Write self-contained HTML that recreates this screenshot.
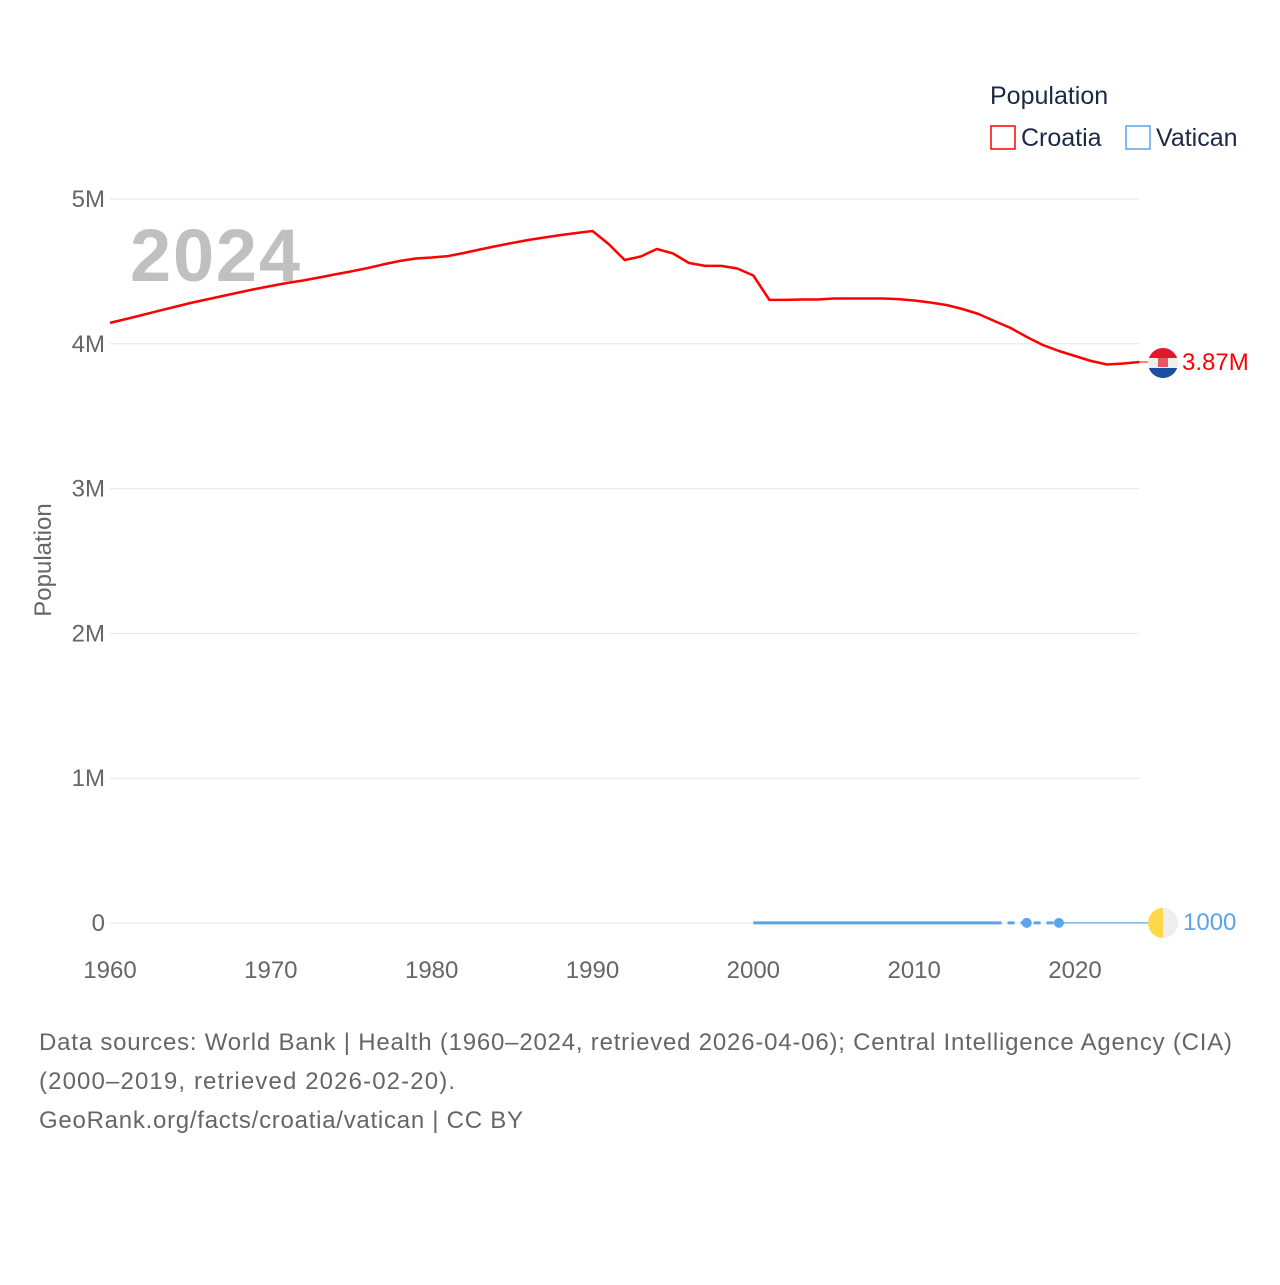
<!DOCTYPE html>
<html><head><meta charset="utf-8"><style>
body{margin:0;background:#fff;}
svg text{font-family:"Liberation Sans",sans-serif;}
</style></head><body>
<svg width="1280" height="1280" viewBox="0 0 1280 1280">
<g id="grid"></g>
<g id="yticks"></g>
<g id="xticks"></g>
<text x="130" y="281" font-size="74" font-weight="bold" fill="#c0c0c0" textLength="170">2024</text>
<text transform="translate(51,560) rotate(-90)" text-anchor="middle" font-size="24" fill="#666">Population</text>
<g id="series"></g>
<g>
<text x="990" y="104" font-size="25" fill="#1a2a44">Population</text>
<rect x="991" y="126" width="24" height="23" fill="none" stroke="#f00" stroke-width="1.5"/>
<text x="1021" y="146" font-size="25" fill="#1a2a44">Croatia</text>
<rect x="1126" y="126" width="24" height="23" fill="none" stroke="#5ba4ec" stroke-width="1.5"/>
<text x="1156" y="146" font-size="25" fill="#1a2a44">Vatican</text>
</g>
<g>
<clipPath id="c1"><circle cx="1163" cy="363" r="15"/></clipPath>
<g clip-path="url(#c1)"><rect x="1148" y="348" width="30" height="10" fill="#e4182c"/><rect x="1148" y="358" width="30" height="10" fill="#eee"/><rect x="1148" y="368" width="30" height="10" fill="#1a4fa0"/><rect x="1158" y="354" width="10" height="13" fill="#e4182c" opacity="0.7"/></g>
</g>
<text x="1182" y="370" font-size="24" fill="#f00">3.87M</text>
<g>
<clipPath id="c2"><circle cx="1163" cy="923" r="15"/></clipPath>
<g clip-path="url(#c2)"><rect x="1148" y="908" width="15" height="30" fill="#fdd94a"/><rect x="1163" y="908" width="15" height="30" fill="#eee"/></g>
</g>
<text x="1183" y="930" font-size="24" fill="#5ba4ec">1000</text>
<g font-size="24" fill="#666">
<text x="39" y="1050" textLength="1193">Data sources: World Bank | Health (1960–2024, retrieved 2026-04-06); Central Intelligence Agency (CIA)</text>
<text x="39" y="1089" textLength="416">(2000–2019, retrieved 2026-02-20).</text>
<text x="39" y="1128" textLength="484">GeoRank.org/facts/croatia/vatican | CC BY</text>
</g>
</svg>
<script>
const yTickValues=[0,1,2,3,4,5];
const yTickLabels=["0","1M","2M","3M","4M","5M"];
const xTickYears=[1960,1970,1980,1990,2000,2010,2020];
const croatiaStartYear=1960;
const croatiaValues=[4.144,4.171,4.199,4.227,4.254,4.282,4.306,4.330,4.354,4.378,4.399,4.420,4.437,4.458,4.479,4.500,4.523,4.548,4.572,4.589,4.596,4.606,4.627,4.651,4.675,4.696,4.717,4.734,4.751,4.765,4.779,4.689,4.579,4.603,4.655,4.624,4.558,4.538,4.538,4.520,4.472,4.303,4.303,4.306,4.306,4.313,4.313,4.313,4.313,4.309,4.299,4.285,4.268,4.240,4.206,4.157,4.109,4.047,3.992,3.950,3.916,3.881,3.857,3.864,3.874];
const vaticanSolidYears=[2000,2005,2010,2015];
const vaticanSolidValues=[0.00080,0.00080,0.00080,0.00080];
const vaticanPointYears=[2017,2019];
const vaticanPointValues=[0.00080,0.00100];
const vaticanLastYear=2024;
const NS="http://www.w3.org/2000/svg";
const X=y=>110+(y-1960)*(1075-110)/60;
const Y=v=>923-v*144.8;
function mk(tag,attrs,parent){const e=document.createElementNS(NS,tag);for(const k in attrs)e.setAttribute(k,attrs[k]);parent.appendChild(e);return e;}
const grid=document.getElementById('grid'),yt=document.getElementById('yticks'),xt=document.getElementById('xticks'),ser=document.getElementById('series');
yTickValues.forEach((v,i)=>{
 const l=mk('line',{x1:110,x2:1139,y1:Y(v),y2:Y(v),stroke:'#e6e6e6','stroke-width':1},grid);
 
 
 const t=mk('text',{x:105,y:Y(v)+8,'text-anchor':'end','font-size':24,fill:'#666'},yt);
 t.textContent=yTickLabels[i];
 
 
});
xTickYears.forEach(yr=>{
 const t=mk('text',{x:X(yr),y:978,'text-anchor':'middle','font-size':24,fill:'#666'},xt);
 t.textContent=yr;
 
 
});
const cp=croatiaValues.map((v,i)=>X(croatiaStartYear+i).toFixed(1)+','+Y(v).toFixed(1)).join(' ');
const cl=mk('polyline',{points:cp,fill:'none',stroke:'#f00','stroke-width':2.5,'stroke-linejoin':'round'},ser);


const lastC=croatiaValues[croatiaValues.length-1];
const cc=mk('line',{x1:X(2024),x2:1150,y1:Y(lastC),y2:Y(lastC),stroke:'#f00','stroke-width':1},ser);


const vp=vaticanSolidYears.map((y,i)=>X(y)+','+Y(vaticanSolidValues[i])).join(' ');
const vl=mk('polyline',{points:vp,fill:'none',stroke:'#5ba4ec','stroke-width':3},ser);


const lastS=vaticanSolidYears.length-1;
const vd=mk('polyline',{points:[X(vaticanSolidYears[lastS])+','+Y(vaticanSolidValues[lastS])].concat(vaticanPointYears.map((y,i)=>X(y)+','+Y(vaticanPointValues[i]))).join(' '),fill:'none',stroke:'#5ba4ec','stroke-width':3,'stroke-dasharray':'7,6'},ser);


vaticanPointYears.forEach((y,i)=>{
 const c=mk('circle',{cx:X(y),cy:Y(vaticanPointValues[i]),r:5,fill:'#5ba4ec'},ser);
 
 
});
const lastV=vaticanPointValues[vaticanPointValues.length-1];
const vt=mk('line',{x1:X(vaticanPointYears[vaticanPointYears.length-1]),x2:1150,y1:Y(lastV),y2:Y(lastV),stroke:'#5ba4ec','stroke-width':1.2},ser);


</script>
</body></html>
